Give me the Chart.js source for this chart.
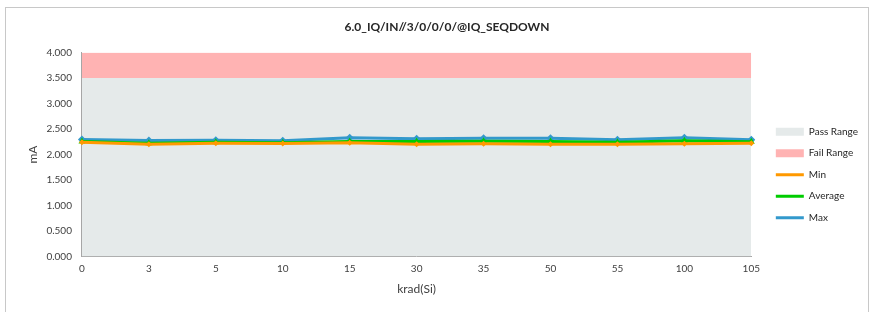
<!DOCTYPE html>
<html lang="en">
<head>
    <meta charset="UTF-8">
    <title>6.0_IQ/IN//3/0/0/0/@IQ_SEQDOWN</title>
    <script src="https://cdn.jsdelivr.net/npm/chart.js@4.4.4/dist/chart.umd.min.js"></script>
    <style>
        body { margin: 0; background: #fff; }
        .chart-container {
            position: relative;
            width: 876px;
            height: 312px;
        }
        .frame {
            position: absolute;
            left: 5px; top: 7px;
            width: 862px; height: 310px;
            border: 1px solid #c8c8c8;
            pointer-events: none;
        }
    </style>
</head>
<body>
    <div class="chart-container">
        <canvas id="chart"></canvas>
        <div class="frame"></div>
    </div>

    <script>
        // Dose steps (category axis)
        const doses = ['0', '3', '5', '10', '15', '30', '35', '50', '55', '100', '105'];

        // Measured current, mA
        const minValues = [2.24, 2.20, 2.22, 2.215, 2.23, 2.20, 2.21, 2.20, 2.20, 2.21, 2.22];
        const avgValues = [2.255, 2.22, 2.24, 2.23, 2.255, 2.255, 2.26, 2.255, 2.24, 2.27, 2.25];
        const maxValues = [2.294, 2.275, 2.28, 2.27, 2.33, 2.31, 2.32, 2.32, 2.29, 2.33, 2.29];

        // Limits
        const passLimit = doses.map(() => 3.5);
        const failLimit = doses.map(() => 4.0);

        const yTicks = [0, 0.5, 1, 1.5, 2, 2.5, 3, 3.5, 4];

        Chart.defaults.font.family = 'Lato, "Open Sans", sans-serif';
        Chart.defaults.color = '#404040';

        function seriesLine(label, data, color, style, radius) {
            return {
                type: 'line',
                label: label,
                data: data,
                order: 0,
                borderColor: color,
                backgroundColor: color,
                borderWidth: 3,
                pointStyle: style,
                pointRadius: radius,
                pointBorderWidth: 0,
                fill: false,
                tension: 0
            };
        }

        new Chart(document.getElementById('chart'), {
            type: 'line',
            data: {
                labels: doses,
                datasets: [
                    {
                        label: 'Pass Range',
                        data: passLimit,
                        order: 10,
                        borderWidth: 0,
                        borderColor: 'rgba(0,0,0,0)',
                        backgroundColor: '#e5eaea',
                        pointRadius: 0,
                        fill: 'origin'
                    },
                    {
                        label: 'Fail Range',
                        data: failLimit,
                        order: 10,
                        borderWidth: 0,
                        borderColor: 'rgba(0,0,0,0)',
                        backgroundColor: '#ffb3b3',
                        pointRadius: 0,
                        fill: '-1'
                    },
                    seriesLine('Min', minValues, '#ff9900', 'rectRot', 3),
                    seriesLine('Average', avgValues, '#00cc00', 'triangle', 4),
                    seriesLine('Max', maxValues, '#3399cc', 'rectRot', 4)
                ]
            },
            options: {
                responsive: true,
                maintainAspectRatio: false,
                animation: false,
                layout: { padding: { top: 10, left: 26, right: 8, bottom: 16 } },
                plugins: {
                    title: {
                        display: true,
                        text: '6.0_IQ/IN//3/0/0/0/@IQ_SEQDOWN',
                        color: '#262626',
                        font: { size: 12, weight: 'bold' },
                        padding: { top: 10, bottom: 18 }
                    },
                    legend: {
                        position: 'right',
                        title: { display: true, text: ' ', padding: { top: 0, bottom: 29 } },
                        labels: {
                            usePointStyle: true,
                            pointStyleWidth: 28,
                            boxHeight: 8,
                            padding: 11.5,
                            font: { size: 10 },
                            color: '#262626',
                            sort: (a, b) => a.datasetIndex - b.datasetIndex,
                            generateLabels: chart => {
                                const items = Chart.defaults.plugins.legend.labels.generateLabels(chart);
                                return items.map(item => {
                                    const ds = chart.data.datasets[item.datasetIndex];
                                    if (ds.fill) {
                                        item.pointStyle = 'rect';
                                        item.lineWidth = 0;
                                        item.fillStyle = ds.backgroundColor;
                                        item.strokeStyle = ds.backgroundColor;
                                    } else {
                                        item.pointStyle = 'line';
                                        item.lineWidth = 3;
                                        item.strokeStyle = ds.borderColor;
                                    }
                                    return item;
                                });
                            }
                        }
                    },
                    tooltip: { enabled: false }
                },
                scales: {
                    x: {
                        offset: false,
                        grid: { display: false, drawTicks: true, tickLength: 4, color: '#a6a6a6' },
                        border: { color: '#a6a6a6' },
                        ticks: { font: { size: 10 }, color: '#404040', padding: 2, maxRotation: 0 },
                        title: { display: true, text: 'krad(Si)', font: { size: 12 }, color: '#404040', padding: { top: 5, bottom: 0 } }
                    },
                    y: {
                        min: 0,
                        max: 4,
                        afterBuildTicks: axis => { axis.ticks = yTicks.map(v => ({ value: v })); },
                        grid: { display: false, drawTicks: true, tickLength: 4, color: '#a6a6a6' },
                        border: { color: '#a6a6a6' },
                        ticks: { font: { size: 10 }, color: '#404040', padding: 6, callback: v => v.toFixed(3) },
                        title: { display: true, text: 'mA', font: { size: 12 }, color: '#404040', padding: { top: 0, bottom: 0 } }
                    },
                    gap: {
                        position: 'right',
                        display: true,
                        grid: { display: false },
                        border: { display: false },
                        ticks: { display: false },
                        afterFit: axis => { axis.width = 13; }
                    }
                }
            }
        });
    </script>
</body>
</html>
